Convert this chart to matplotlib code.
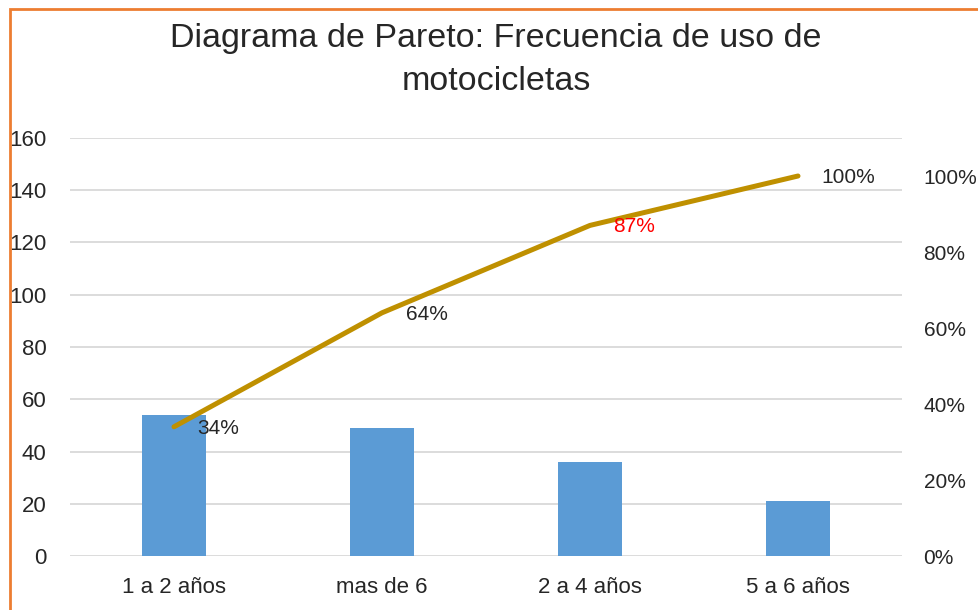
import matplotlib
matplotlib.use("Agg")
import matplotlib.pyplot as plt
from matplotlib.patches import Rectangle
from matplotlib.ticker import FuncFormatter

plt.rcParams["font.family"] = ["Liberation Sans", "DejaVu Sans"]

categorias = ["1 a 2 años", "mas de 6", "2 a 4 años", "5 a 6 años"]
frecuencia = [54, 49, 36, 21]
acumulado = [0.34, 0.64, 0.87, 1.00]
etiquetas = ["34%", "64%", "87%", "100%"]
colores_etiqueta = ["#262626", "#262626", "#FF0000", "#262626"]

W, H = 979, 610
fig = plt.figure(figsize=(W / 100, H / 100), dpi=100)
ax = fig.add_axes([70 / W, 1 - 556 / H, 832 / W, 418 / H])
ax2 = ax.twinx()

x = range(len(categorias))
ax.bar(x, frecuencia, width=0.31, color="#5B9BD5", zorder=2)
ax.set_xlim(-0.5, len(categorias) - 0.5)
ax.set_ylim(0, 160)
ax.set_yticks(range(0, 161, 20))
ax.set_xticks(list(x))
ax.set_xticklabels(categorias)
ax.grid(axis="y", color="#D9D9D9", linewidth=1.3, zorder=0)
ax.set_axisbelow(True)

ax2.plot(x, acumulado, color="#BF9000", linewidth=3.6,
         solid_capstyle="round", solid_joinstyle="round", zorder=3)
for xi, yi, txt, col in zip(x, acumulado, etiquetas, colores_etiqueta):
    ax2.annotate(txt, (xi, yi), xytext=(17, -1), textcoords="offset points",
                 ha="left", va="center", fontsize=15, color=col)
ax2.set_ylim(0, 1.1)
ax2.set_yticks([0, 0.2, 0.4, 0.6, 0.8, 1.0])
ax2.yaxis.set_major_formatter(FuncFormatter(lambda v, p: f"{v * 100:.0f}%"))

for a in (ax, ax2):
    for s in a.spines.values():
        s.set_visible(False)
    a.tick_params(length=0, labelsize=16, labelcolor="#262626")
ax.tick_params(axis="y", pad=17)
ax.tick_params(axis="x", pad=15)
ax2.tick_params(axis="y", pad=15.5, labelsize=15)

fig.text(496 / W, 1 - 38 / H, "Diagrama de Pareto: Frecuencia de uso de",
         ha="center", va="center", fontsize=24.5, color="#262626")
fig.text(496 / W, 1 - 82 / H, "motocicletas",
         ha="center", va="center", fontsize=24.5, color="#262626")

# borde naranja del grafico
fig.add_artist(Rectangle((10 / W, -0.1), 1.2, 1.1 - 9 / H,
                         transform=fig.transFigure, fill=False,
                         edgecolor="#ED7D31", linewidth=2))

fig.savefig("out.png", dpi=100)
